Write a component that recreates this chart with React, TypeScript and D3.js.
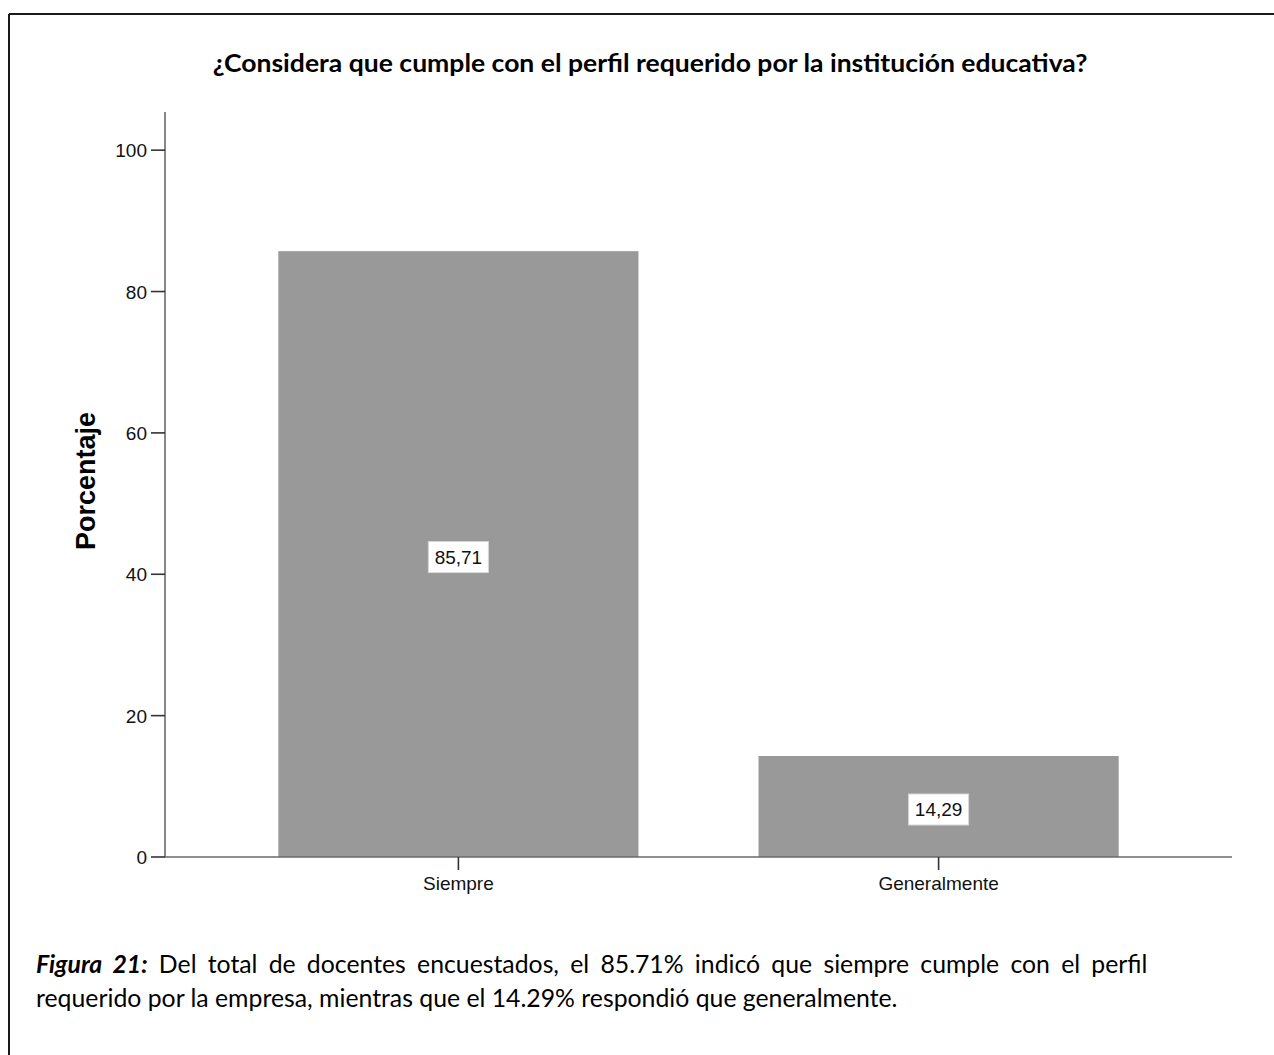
import React, { useLayoutEffect, useRef, useState } from "react";
import * as d3 from "d3";

// Survey answers and their percentages
const categories: string[] = ["Siempre", "Generalmente"];
const percentages: number[] = [85.71, 14.29];
const valueLabels: string[] = ["85,71", "14,29"];
const yTicks: number[] = [0, 20, 40, 60, 80, 100];

const titleText = "¿Considera que cumple con el perfil requerido por la institución educativa?";
const yAxisTitle = "Porcentaje";
const captionLead = "Figura 21:";
const captionLine1 = " Del total de docentes encuestados, el 85.71% indicó que siempre cumple con el perfil";
const captionLine2 = "requerido por la empresa, mientras que el 14.29% respondió que generalmente.";

const W = 1274;
const H = 1055;

// plot frame
const axisX0 = 165;
const axisX1 = 1232;
const axisY0 = 857;
const axisYTop = 112;

const chartFont = "'Liberation Sans', Arial, sans-serif";
const docFont = "Lato, 'Open Sans', sans-serif";

const TITLE_W = 875;
const CAP_L1_W = 1112;
const CAP_L2_W = 862;

export default function App() {
  const x = d3
    .scaleBand<string>()
    .domain(categories)
    .range([axisX0, axisX1])
    .paddingInner(0.25)
    .paddingOuter(0.236);
  const y = d3.scaleLinear().domain([0, 105.4]).range([axisY0, axisYTop]);

  const titleRef = useRef<SVGTextElement>(null);
  const l1Ref = useRef<SVGTextElement>(null);
  const l2Ref = useRef<SVGTextElement>(null);
  const [titleSx, setTitleSx] = useState(1);
  const [capSx, setCapSx] = useState(1);
  const [wordSpacing, setWordSpacing] = useState(0);

  useLayoutEffect(() => {
    // narrow the document-font lines to their column widths, then justify line 1
    const tw = titleRef.current ? titleRef.current.getComputedTextLength() : TITLE_W;
    const w2 = l2Ref.current ? l2Ref.current.getComputedTextLength() : CAP_L2_W;
    const w1 = l1Ref.current ? l1Ref.current.getComputedTextLength() : CAP_L1_W;
    const sx = CAP_L2_W / w2;
    const spaces = (captionLead + captionLine1).split(" ").length - 1;
    setTitleSx(TITLE_W / tw);
    setCapSx(sx);
    setWordSpacing((CAP_L1_W / sx - w1) / spaces);
  }, []);

  const bw = x.bandwidth();

  return (
    <svg
      width={W}
      height={H}
      style={{ position: "absolute", left: 0, top: 0, background: "#fff" }}
    >
      <rect x={0} y={0} width={W} height={H} fill="#fff" />
      {/* page frame */}
      <line x1={9} y1={14} x2={W} y2={14} stroke="#1a1a1a" strokeWidth={2} />
      <line x1={9} y1={14} x2={9} y2={H} stroke="#1a1a1a" strokeWidth={2} />

      <text
        ref={titleRef}
        transform={`translate(650,72) scale(${titleSx},1)`}
        textAnchor="middle"
        fontFamily={docFont}
        fontWeight={700}
        fontSize={25.5}
        fill="#000"
      >
        {titleText}
      </text>

      {/* bars */}
      {categories.map((c, i) => (
        <rect
          key={c}
          x={x(c)!}
          y={y(percentages[i])}
          width={bw}
          height={y(0) - y(percentages[i])}
          fill="#999999"
        />
      ))}

      {/* value labels */}
      {categories.map((c, i) => {
        const cx = x(c)! + bw / 2;
        const cy = (y(percentages[i]) + y(0)) / 2 + 3;
        return (
          <g key={c + "-lbl"}>
            <rect x={cx - 30} y={cy - 15.5} width={60} height={31} fill="#fff" stroke="#d8d8d8" strokeWidth={1} />
            <text
              x={cx}
              y={cy + 7}
              textAnchor="middle"
              fontFamily={chartFont}
              fontSize={19}
              fill="#111"
            >
              {valueLabels[i]}
            </text>
          </g>
        );
      })}

      {/* y axis */}
      <line x1={axisX0} y1={axisYTop} x2={axisX0} y2={axisY0} stroke="#6a6a6a" strokeWidth={1.6} />
      {yTicks.map((t) => (
        <g key={"yt" + t}>
          <line x1={151} x2={axisX0} y1={y(t)} y2={y(t)} stroke="#333" strokeWidth={1.6} />
          <text
            x={147}
            y={y(t) + 7}
            textAnchor="end"
            fontFamily={chartFont}
            fontSize={19}
            fill="#111"
          >
            {t}
          </text>
        </g>
      ))}

      {/* x axis */}
      <line x1={axisX0} y1={axisY0} x2={axisX1} y2={axisY0} stroke="#6a6a6a" strokeWidth={1.6} />
      {categories.map((c) => {
        const cx = x(c)! + bw / 2;
        return (
          <g key={"xt" + c}>
            <line x1={cx} x2={cx} y1={axisY0} y2={870} stroke="#333" strokeWidth={1.6} />
            <text
              x={cx}
              y={890}
              textAnchor="middle"
              fontFamily={chartFont}
              fontSize={19}
              fill="#111"
            >
              {c}
            </text>
          </g>
        );
      })}

      <text
        transform="translate(95,481) rotate(-90)"
        textAnchor="middle"
        fontFamily={chartFont}
        fontWeight={700}
        fontSize={27}
        fill="#000"
      >
        {yAxisTitle}
      </text>

      {/* caption */}
      <text
        ref={l1Ref}
        transform={`translate(36,973) scale(${capSx},1)`}
        fontFamily={docFont}
        fontSize={25}
        fill="#000"
        wordSpacing={wordSpacing}
        style={{ whiteSpace: "pre" }}
      >
        <tspan fontWeight={700} fontStyle="italic">
          {captionLead}
        </tspan>
        <tspan>{captionLine1}</tspan>
      </text>
      <text
        ref={l2Ref}
        transform={`translate(36,1007) scale(${capSx},1)`}
        fontFamily={docFont}
        fontSize={25}
        fill="#000"
      >
        {captionLine2}
      </text>
    </svg>
  );
}
